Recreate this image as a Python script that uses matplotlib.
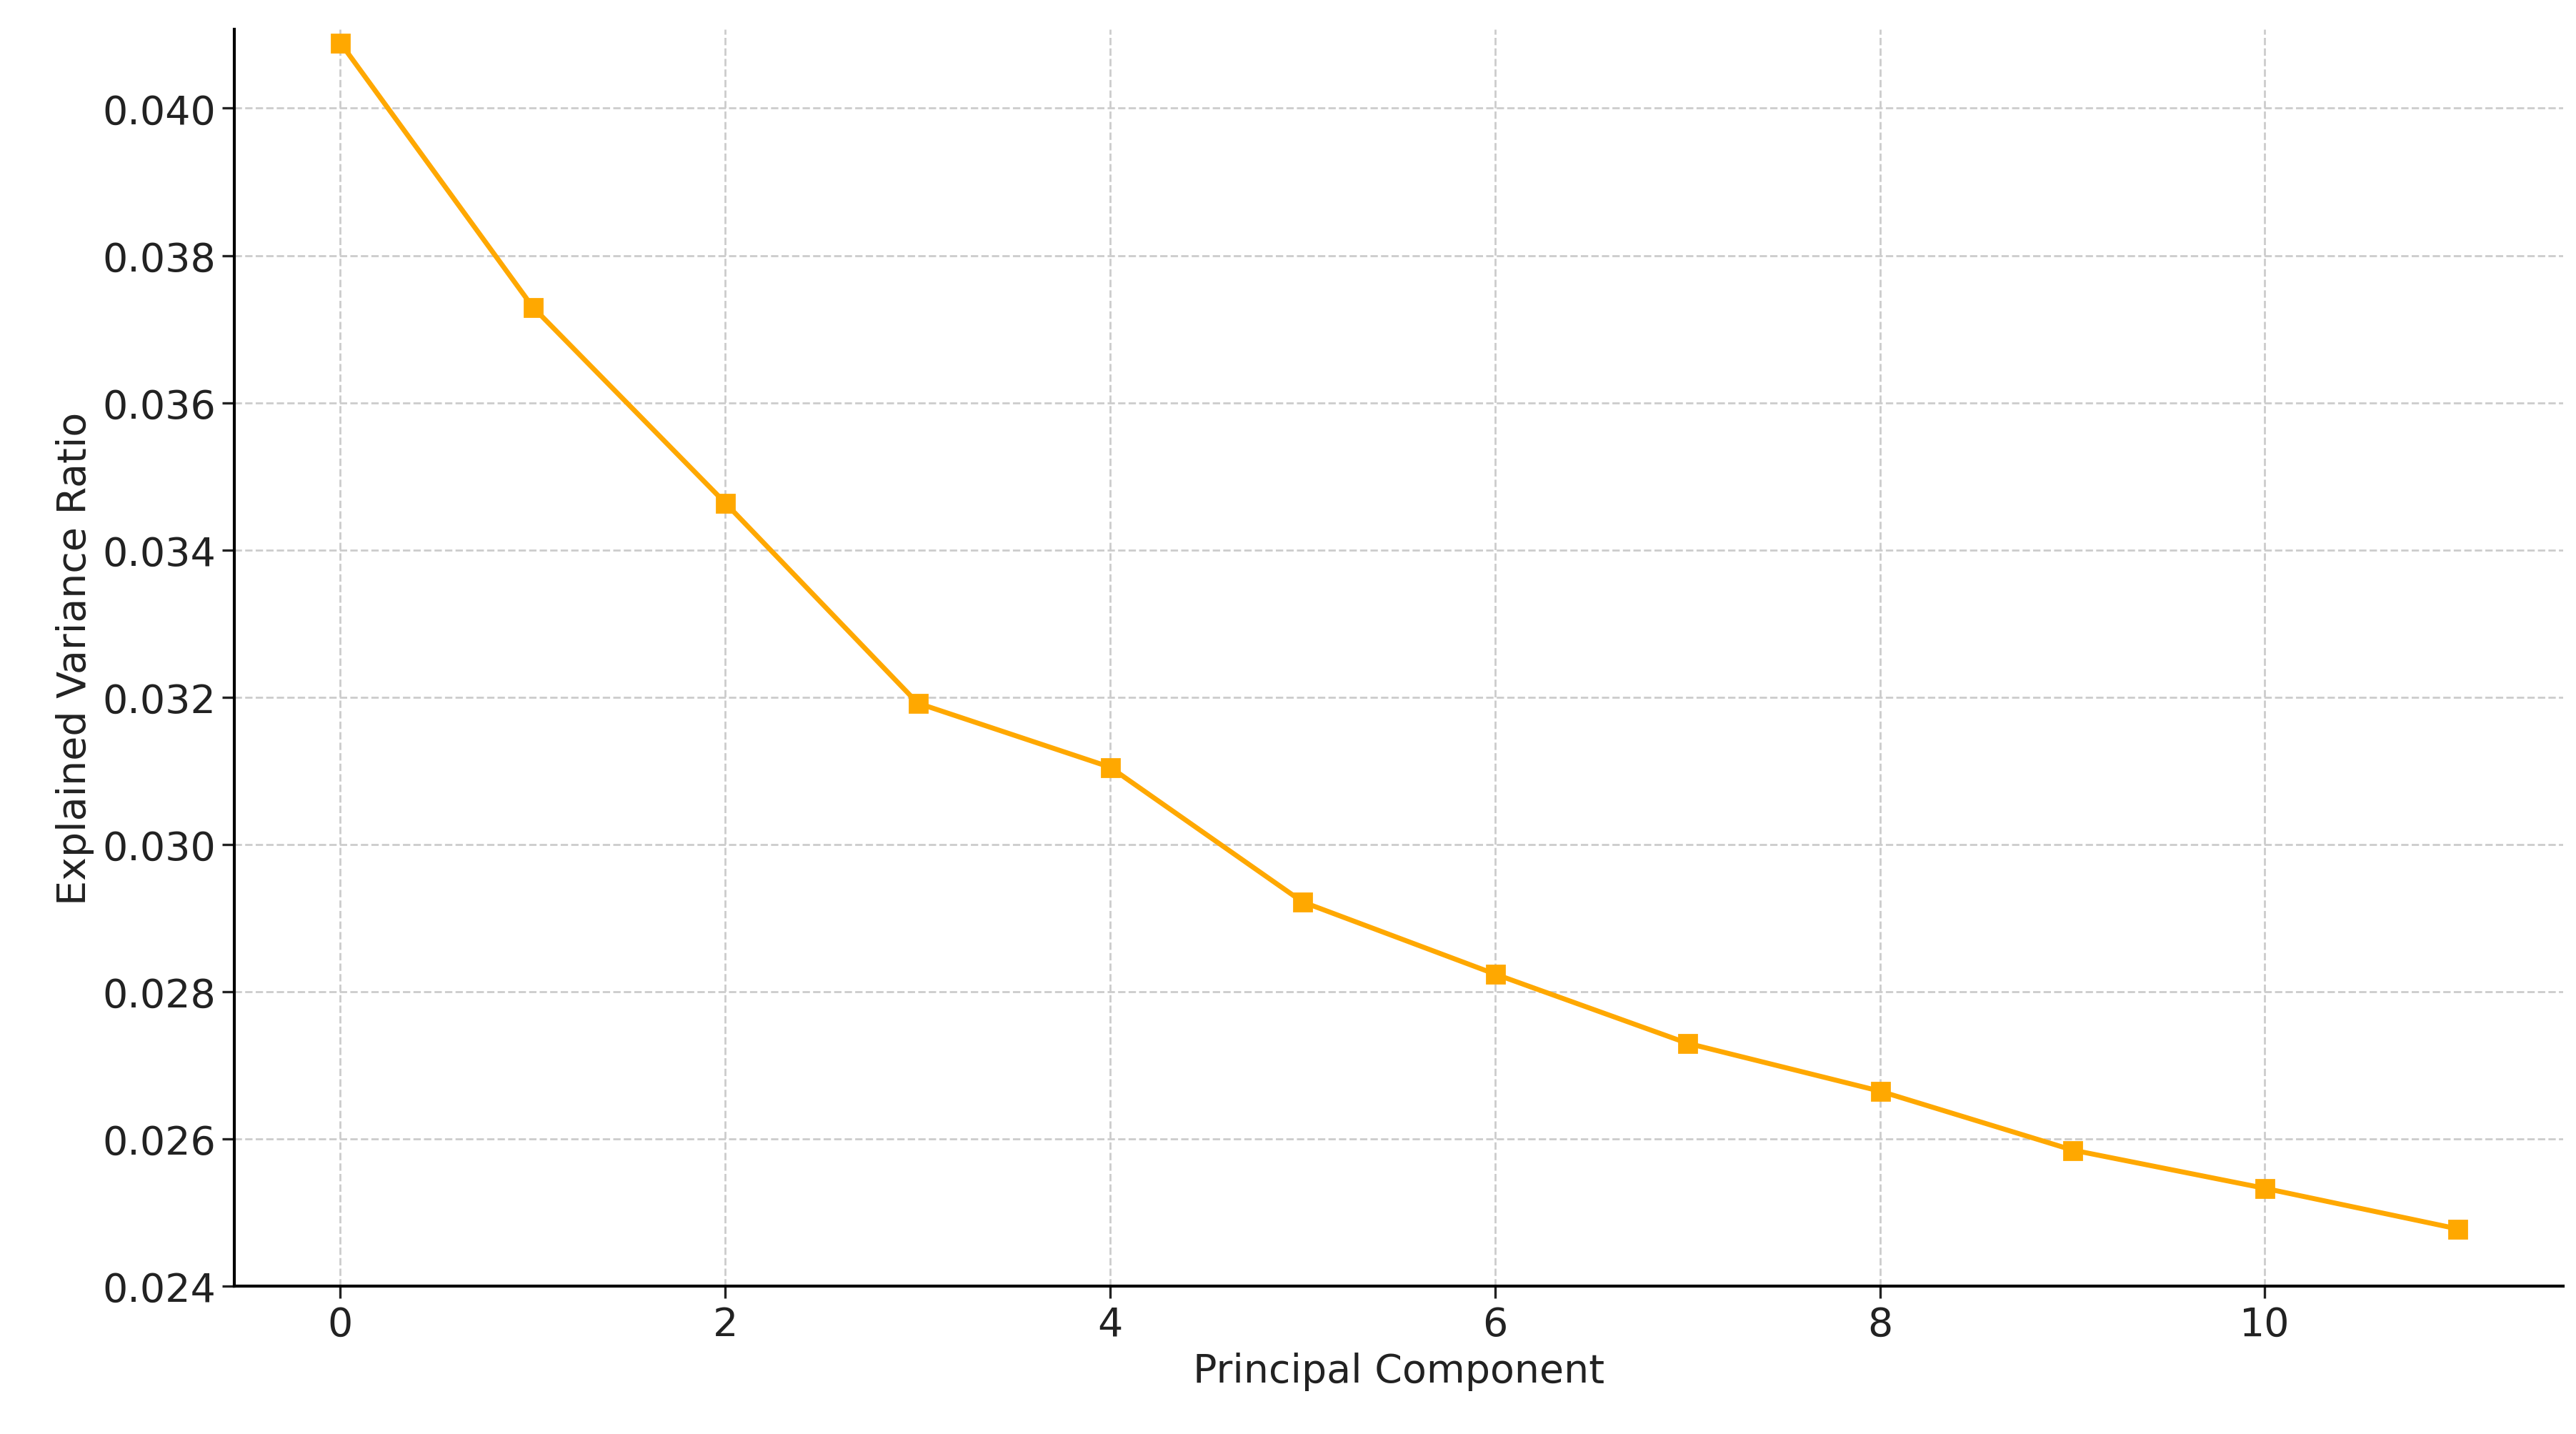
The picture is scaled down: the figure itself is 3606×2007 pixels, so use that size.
import matplotlib; matplotlib.use('Agg')
import matplotlib.pyplot as plt

components = list(range(12))
variance_ratio = [0.04089, 0.03730, 0.03464, 0.03192, 0.03105, 0.02922,
                  0.02824, 0.02730, 0.02665, 0.02585, 0.02533, 0.02478]

fig = plt.figure(figsize=(18.03, 10.04), dpi=200)
ax = fig.add_axes([0.091, 0.103, 0.904, 0.876])
ax.plot(components, variance_ratio, color='#FFA800', marker='s', markersize=9, linewidth=2.5)
ax.set_ylim(0.024, 0.04107)
ax.set_xticks([0, 2, 4, 6, 8, 10])
ax.set_yticks([0.024, 0.026, 0.028, 0.030, 0.032, 0.034, 0.036, 0.038, 0.040])
ax.yaxis.set_major_formatter(matplotlib.ticker.FormatStrFormatter('%.3f'))
ax.grid(True, linestyle='--', color='#cccccc', linewidth=1)
ax.set_axisbelow(True)
for s in ['top', 'right']:
    ax.spines[s].set_visible(False)
for s in ['left', 'bottom']:
    ax.spines[s].set_linewidth(1.5)
ax.tick_params(labelsize=20, length=6, width=1.2, colors='#222222')
ax.set_xlabel('Principal Component', fontsize=20, color='#222222')
ax.set_ylabel('Explained Variance Ratio', fontsize=20, color='#222222')
fig.savefig('out.png', dpi=200)
